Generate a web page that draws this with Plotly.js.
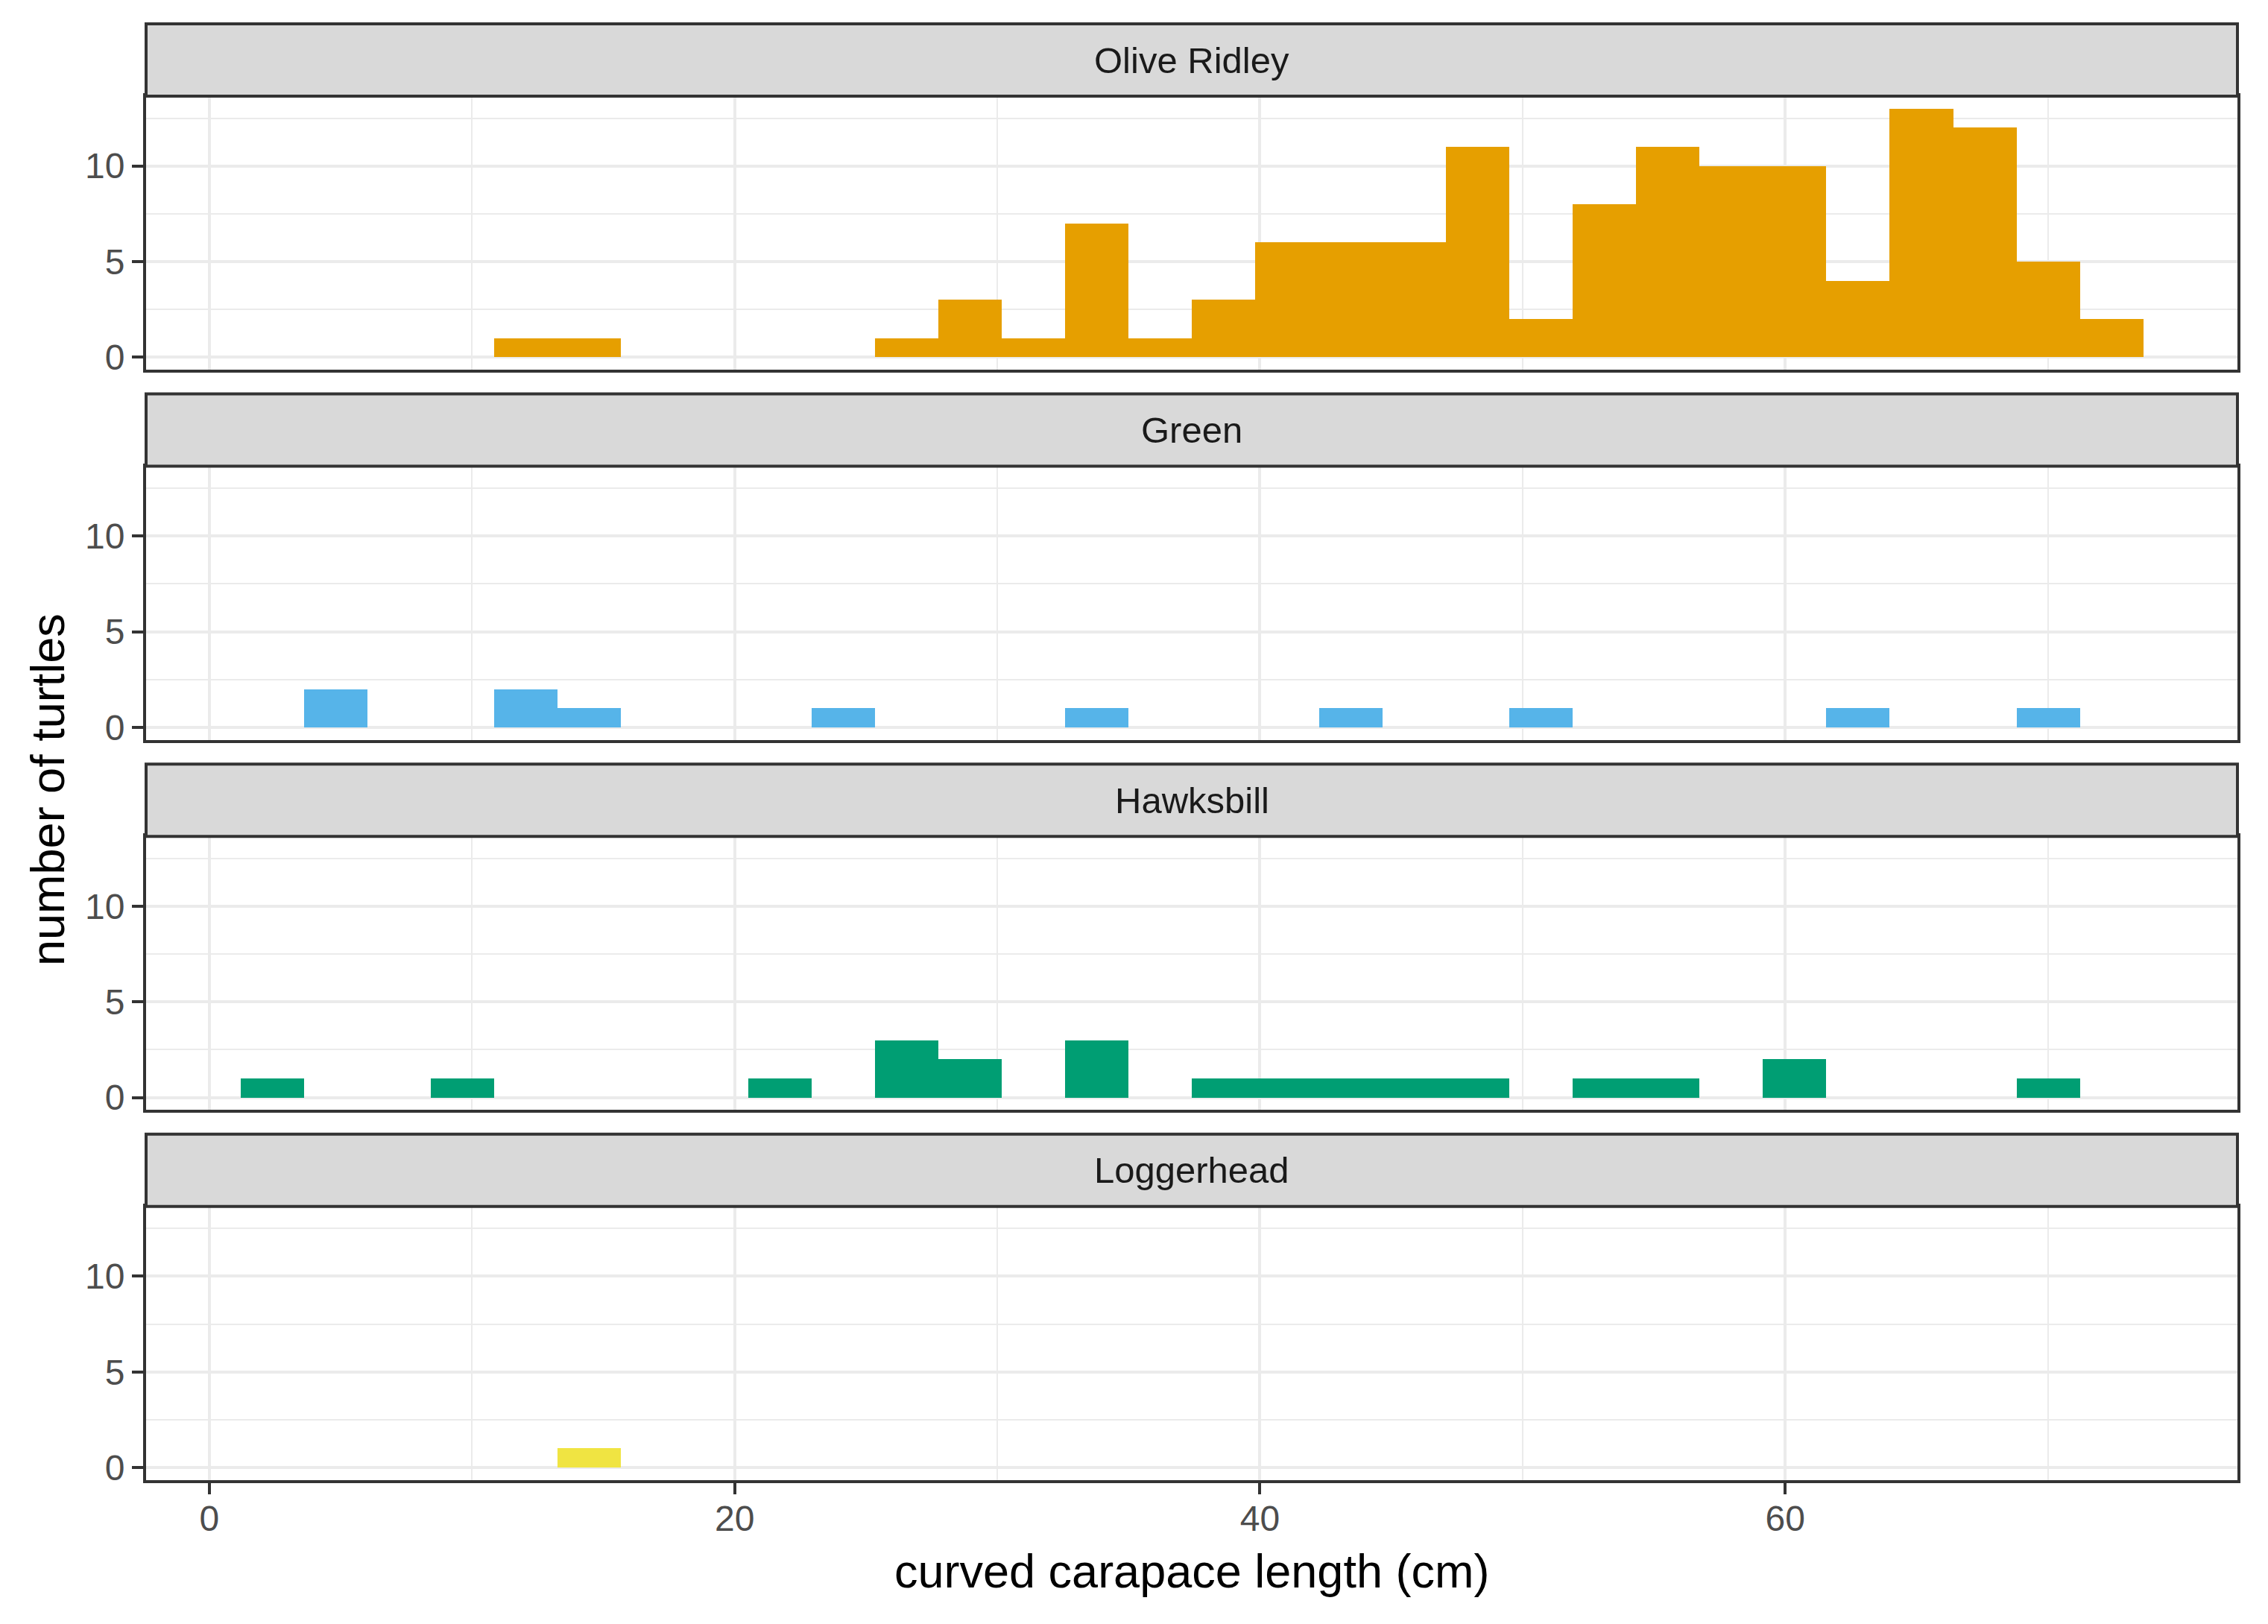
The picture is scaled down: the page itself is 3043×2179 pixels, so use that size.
<!DOCTYPE html>
<html>
<head>
<meta charset="utf-8">
<script src="https://cdn.plot.ly/plotly-3.0.1.min.js"></script>
<style>html,body{margin:0;padding:0;background:#fff;}#chart{width:3043px;height:2179px;}</style>
</head>
<body>
<div id="chart"></div>
<script>
// ---- data ----
const species = ["Olive Ridley", "Green", "Hawksbill", "Loggerhead"];
const binStart = 1.19;     // left edge of first bin (cm)
const binWidth = 2.415;    // bin width (cm)
const oliveRidley = [0,0,0,0,1,1,0,0,0,0,1,3,1,7,1,3,6,6,6,11,2,8,11,10,10,4,13,12,5,2];
const green       = [0,2,0,0,2,1,0,0,0,1,0,0,0,1,0,0,0,1,0,0,1,0,0,0,0,1,0,0,1,0];
const hawksbill   = [1,0,0,1,0,0,0,0,1,0,3,2,0,3,0,1,1,1,1,1,0,1,1,0,2,0,0,0,1,0];
const loggerhead  = [0,0,0,0,0,1,0,0,0,0,0,0,0,0,0,0,0,0,0,0,0,0,0,0,0,0,0,0,0,0];
const counts = [oliveRidley, green, hawksbill, loggerhead];
const colors = ["#E69F00", "#56B4E9", "#009E73", "#F0E442"];
const xTicks = [0, 20, 40, 60];
const xMinor = [10, 30, 50, 70];
const yTicks = [0, 5, 10];
const yMinor = [2.5, 7.5, 12.5];
const xTitle = "curved carapace length (cm)";
const yTitle = "number of turtles";

const binCenters = oliveRidley.map((_, k) => binStart + binWidth * (k + 0.5));

// ---- layout geometry (pixels) ----
const W = 3043, H = 2179;
const left = 196, right = 3002;
const stripTop0 = 32, stripH = 97, panelH = 367, step = 496.6;
const px = v => v / W;
const py = v => 1 - v / H;

const FONT = "Liberation Sans, Arial, sans-serif";
const traces = [];
const layout = {
  width: W, height: H,
  margin: {l: 0, r: 0, t: 0, b: 0},
  paper_bgcolor: "#ffffff",
  plot_bgcolor: "#ffffff",
  showlegend: false,
  bargap: 0,
  shapes: [],
  annotations: [],
  font: {family: FONT}
};

for (let i = 0; i < 4; i++) {
  const sTop = stripTop0 + i * step;
  const pTop = sTop + stripH;
  const pBot = pTop + panelH;
  const xa = i === 0 ? "xaxis" : "xaxis" + (i + 1);
  const ya = i === 0 ? "yaxis" : "yaxis" + (i + 1);
  const xr = i === 0 ? "x" : "x" + (i + 1);
  const yr = i === 0 ? "y" : "y" + (i + 1);
  traces.push({
    type: "bar",
    x: binCenters,
    y: counts[i],
    width: binWidth,
    xaxis: xr, yaxis: yr,
    marker: {color: colors[i], line: {width: 0}},
    hoverinfo: "x+y"
  });
  const bottom = i === 3;
  layout[xa] = {
    domain: [px(left), px(right)],
    anchor: yr,
    range: [-2.41, 77.22],
    tickvals: xTicks,
    ticktext: xTicks.map(String),
    showticklabels: bottom,
    ticks: bottom ? "outside" : "",
    ticklen: 15, tickwidth: 4, tickcolor: "#333333",
    ticklabelstandoff: -8,
    tickfont: {size: 48, color: "#4D4D4D", family: FONT},
    showgrid: true, gridcolor: "#EBEBEB", gridwidth: 4,
    minor: {tickvals: xMinor, showgrid: true, gridcolor: "#EBEBEB", gridwidth: 2, ticks: ""},
    zeroline: false,
    showline: true, mirror: true, linecolor: "#333333", linewidth: 4,
    fixedrange: true
  };
  if (i > 0) layout[xa].matches = "x";
  layout[ya] = {
    domain: [py(pBot), py(pTop)],
    anchor: xr,
    range: [-0.65, 13.65],
    tickvals: yTicks,
    ticktext: yTicks.map(String),
    ticks: "outside",
    ticklen: 15, tickwidth: 4, tickcolor: "#333333",
    tickfont: {size: 48, color: "#4D4D4D", family: FONT},
    showgrid: true, gridcolor: "#EBEBEB", gridwidth: 4,
    minor: {tickvals: yMinor, showgrid: true, gridcolor: "#EBEBEB", gridwidth: 2, ticks: ""},
    zeroline: false,
    showline: true, mirror: true, linecolor: "#333333", linewidth: 4,
    fixedrange: true
  };
  layout.shapes.push({
    type: "rect", xref: "paper", yref: "paper",
    x0: px(left), x1: px(right), y0: py(pTop), y1: py(sTop),
    fillcolor: "#D9D9D9", line: {color: "#333333", width: 4}, layer: "above"
  });
  layout.annotations.push({
    xref: "paper", yref: "paper",
    x: px((left + right) / 2), y: py(sTop + stripH / 2),
    xanchor: "center", yanchor: "middle",
    text: species[i], showarrow: false,
    font: {size: 49, color: "#1A1A1A", family: FONT}
  });
}

layout.annotations.push({
  xref: "paper", yref: "paper",
  x: px((left + right) / 2), y: py(2108),
  xanchor: "center", yanchor: "middle",
  text: xTitle, showarrow: false,
  font: {size: 63, color: "#000000", family: FONT}
});
layout.annotations.push({
  xref: "paper", yref: "paper",
  x: px(64), y: py(1060),
  xanchor: "center", yanchor: "middle",
  text: yTitle, showarrow: false, textangle: -90,
  font: {size: 63, color: "#000000", family: FONT}
});

Plotly.newPlot("chart", traces, layout, {displayModeBar: false, staticPlot: true});
</script>
</body>
</html>
